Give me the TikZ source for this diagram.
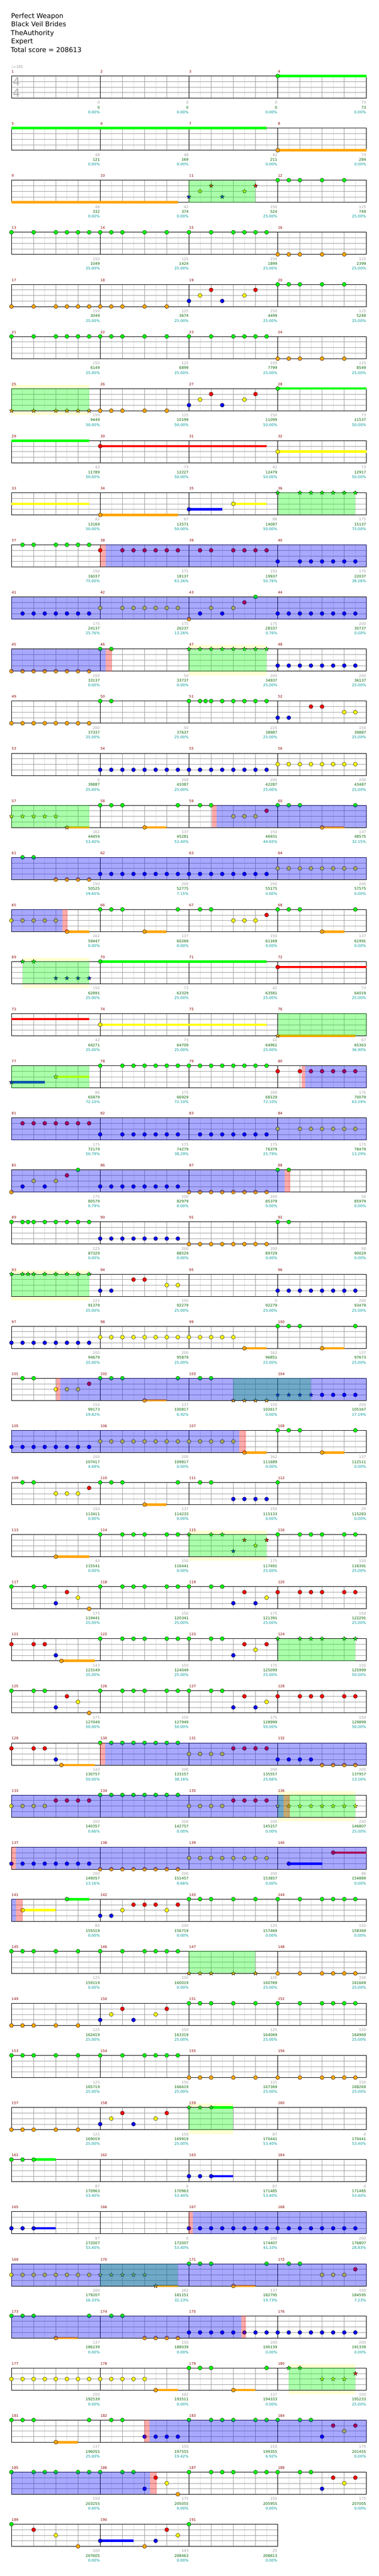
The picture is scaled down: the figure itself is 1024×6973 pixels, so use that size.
\documentclass[tikz,border=0pt]{standalone}
\usepackage{fontspec}
\setmainfont{DejaVu Sans}
\definecolor{ln0}{RGB}{0,255,0}
\definecolor{ln1}{RGB}{255,0,0}
\definecolor{ln2}{RGB}{255,255,0}
\definecolor{ln3}{RGB}{0,0,255}
\definecolor{ln4}{RGB}{255,165,0}
\definecolor{lightgl}{RGB}{222,222,222}
\definecolor{beatgl}{RGB}{160,160,160}
\definecolor{mred}{RGB}{140,0,0}
\definecolor{tgray}{RGB}{160,160,160}
\definecolor{tgreen}{RGB}{0,100,0}
\definecolor{tcyan}{RGB}{0,153,153}
\definecolor{solocol}{RGB}{255,255,210}
\definecolor{tsgray}{RGB}{175,175,175}
\tikzset{
  nt/.style={draw=black,line width=0.6pt},
  lgl/.style={draw=lightgl,line width=0.9pt},
  bgl/.style={draw=beatgl,line width=0.9pt},
  mline/.style={draw=black,line width=1pt},
  spc/.style={fill=ln0,fill opacity=0.333},
  actc/.style={fill=ln3,fill opacity=0.34},
  pkc/.style={fill=ln1,fill opacity=0.333},
  mnum/.style={anchor=base west,inner sep=0pt,text=mred,font=\fontsize{9.5}{11}\selectfont},
  sga/.style={anchor=base east,inner sep=0pt,text=tgray,font=\fontsize{10}{12}\selectfont},
  sgb/.style={anchor=base east,inner sep=0pt,text=tgreen,font=\fontsize{10}{12}\selectfont},
  sgc/.style={anchor=base east,inner sep=0pt,text=tcyan,font=\fontsize{10}{12}\selectfont},
  hdr/.style={anchor=base west,inner sep=0pt,text=black,font=\fontsize{18}{22}\selectfont},
}
\newcommand\NoteL[2]{\foreach \p in {#2}{\filldraw[nt,fill=ln#1] ({30*\p},{15*#1}) circle[radius=5.4pt];}}
\newcommand\StarL[2]{\foreach \p in {#2}{\filldraw[nt,fill=ln#1,shift={({30*\p},{15*#1})}] (270:6) -- (306:2.5) -- (342:6) -- (18:2.5) -- (54:6) -- (90:2.5) -- (126:6) -- (162:2.5) -- (198:6) -- (234:2.5) -- cycle;}}
\newcommand\SusL[3]{\draw[line width=6.5pt,ln#1] ({30*#2},{15*#1}) -- ({30*#3},{15*#1});}
\newcommand\SpR[2]{\fill[spc] ({30*#1},0) rectangle ({30*#2},60);}
\newcommand\ActR[2]{\fill[actc] ({30*#1},0) rectangle ({30*#2},60);}
\newcommand\PkR[2]{\fill[pkc] ({30*#1},0) rectangle ({30*#2},60);}
\newcommand\Row[2]{\pgfmathsetmacro\rowy{205.7+141*(#1-1)}\begin{scope}[shift={(31,\rowy)}]#2\end{scope}}
\begin{document}
\begin{tikzpicture}[x=1pt,y=-1pt]
\useasboundingbox (0,0) rectangle (1024,6973);
\fill[white] (0,0) rectangle (1024,6973);
% header
\node[hdr] (h1) at (30,49) {Perfect Weapon};
\node[hdr] (h2) at (30,72) {Black Veil Brides};
\node[hdr] (h3) at (29,95) {TheAuthority};
\node[hdr] (h4) at (30,118) {Expert};
\node[hdr] (h5) at (29,141) {Total score = 208613};
\node[anchor=base west,inner sep=0pt,text=tgray,font=\fontsize{10}{12}\selectfont] (tempo) at (30,184.5) {♩=185};
% solo highlight
\foreach \r/\a/\b in {7/0/7,12/16/23,18/1/7,24/0/7,29/16/23,34/24/31,40/16/20,45/25/31}{
  \pgfmathsetmacro\ty{205.7+141*(\r-1)}
  \fill[solocol] ({31+30*\a},{\ty-10}) rectangle ({31+30*\b},{\ty+71});
}
% staves
\foreach \r in {0,...,47}{
  \pgfmathsetmacro\ty{205.7+141*\r}
  \ifnum\r=47 \def\nm{3}\else\def\nm{4}\fi
  \pgfmathtruncatemacro\W{240*\nm}
  \pgfmathtruncatemacro\ne{8*\nm-1}
  \pgfmathtruncatemacro\nb{4*\nm-1}
  \pgfmathtruncatemacro\nmm{\nm-1}
  \begin{scope}[shift={(31,\ty)}]
    \fill[white] (0,0) rectangle (\W,60);
    \foreach \k in {1,3,...,\ne} \draw[lgl] ({30*\k},0) -- ({30*\k},60);
    \foreach \yy in {15,30,45} \draw[bgl] (0,\yy) -- (\W,\yy);
    \foreach \k in {1,...,\nb} \draw[bgl] ({60*\k},0) -- ({60*\k},60);
    \foreach \k in {1,...,\nmm} \draw[mline] ({240*\k},0) -- ({240*\k},60);
    \draw[mline] (0,0) rectangle (\W,60);
  \end{scope}
}
% time signature
\node[inner sep=0pt,text=tsgray,font=\fontsize{31}{31}\selectfont] (ts1) at (44.5,221) {4};
\node[inner sep=0pt,text=tsgray,font=\fontsize{31}{31}\selectfont] (ts2) at (44.5,251) {4};
% measure numbers and scores
\foreach \m/\a/\b/\c in {1/0/0/0.00,2/0/0/0.00,3/0/0/0.00,4/73/73/0.00,5/48/121/0.00,6/48/169/0.00,7/42/211/0.00,8/73/284/0.00,9/48/332/0.00,10/42/374/0.00,11/150/524/25.00,12/125/749/25.00,13/150/1049/25.00,14/125/1424/25.00,15/150/1899/25.00,16/125/2399/25.00,17/150/3049/25.00,18/125/3674/25.00,19/150/4499/25.00,20/125/5249/25.00,21/150/6149/25.00,22/125/6899/25.00,23/150/7799/25.00,24/125/8549/25.00,25/150/9449/50.00,26/125/10199/50.00,27/150/11099/50.00,28/73/11537/50.00,29/42/11789/50.00,30/73/12227/50.00,31/42/12479/50.00,32/73/12917/50.00,33/42/13169/50.00,34/67/13571/50.00,35/86/14087/50.00,36/175/15137/75.00,37/150/16037/75.00,38/175/18137/63.26,39/150/19937/50.76,40/175/22037/38.26,41/175/24137/25.76,42/175/26237/13.26,43/175/28337/0.76,44/200/30737/0.00,45/200/33137/0.00,46/50/33737/0.00,47/200/34937/25.00,48/200/36137/25.00,49/200/37337/25.00,50/50/37637/25.00,51/225/38987/25.00,52/150/39887/25.00,53/0/39887/25.00,54/200/41087/25.00,55/200/42287/25.00,56/200/43487/25.00,57/162/44459/53.40,58/137/45281/53.40,59/150/46931/44.65,60/137/48575/32.15,61/150/50525/19.65,62/200/52775/7.15,63/200/55175/0.00,64/200/57575/0.00,65/162/59447/0.00,66/137/60269/0.00,67/150/61169/0.00,68/137/61991/0.00,69/150/62891/25.00,70/73/63329/25.00,71/42/63581/25.00,72/73/64019/25.00,73/42/64271/25.00,74/73/64709/25.00,75/42/64961/25.00,76/67/65363/36.90,77/86/65879/72.10,78/175/66929/72.10,79/200/68129/72.10,80/175/70079/63.29,81/175/72179/50.79,82/175/74279/38.29,83/175/76379/25.79,84/175/78479/13.29,85/175/80579/0.79,86/200/82979/0.00,87/200/85379/0.00,88/50/85979/0.00,89/225/87329/0.00,90/200/88529/0.00,91/200/89729/0.00,92/50/90029/0.00,93/225/91379/25.00,94/150/92279/25.00,95/0/92279/25.00,96/200/93479/25.00,97/200/94679/25.00,98/200/95879/25.00,99/162/96851/25.00,100/137/97673/25.00,101/150/99173/19.42,102/137/100817/6.92,103/150/102617/0.00,104/200/105167/17.19,105/200/107417/4.69,106/200/109817/0.00,107/162/111689/0.00,108/137/112511/0.00,109/150/113411/0.00,110/137/114233/0.00,111/150/115133/0.00,112/25/115283/0.00,113/43/115541/0.00,114/150/116441/0.00,115/175/117491/25.00,116/150/118391/25.00,117/175/119441/25.00,118/150/120341/25.00,119/175/121391/25.00,120/150/122291/25.00,121/143/123149/25.00,122/150/124049/25.00,123/175/125099/25.00,124/150/125999/50.00,125/175/127049/50.00,126/150/127949/50.00,127/175/128999/50.00,128/150/129899/50.00,129/143/130757/50.00,130/200/133157/38.16,131/200/135557/25.66,132/200/137957/13.16,133/200/140357/0.66,134/200/142757/0.00,135/200/145157/0.00,136/200/146807/25.00,137/200/149057/13.16,138/200/151457/0.66,139/200/153857/0.00,140/86/154889/0.00,141/80/155519/0.00,142/200/156719/0.00,143/125/157469/0.00,144/150/158369/0.00,145/125/159119/0.00,146/150/160019/0.00,147/125/160769/25.00,148/150/161669/25.00,149/125/162419/25.00,150/150/163319/25.00,151/125/164069/25.00,152/150/164969/25.00,153/125/165719/25.00,154/150/166619/25.00,155/125/167369/25.00,156/150/168269/25.00,157/125/169019/25.00,158/150/169919/25.00,159/87/170441/53.40,160/0/170441/53.40,161/87/170963/53.40,162/0/170963/53.40,163/87/171485/53.40,164/0/171485/53.40,165/87/172007/53.40,166/0/172007/53.40,167/200/174407/41.33,168/200/176807/28.83,169/200/179207/16.33,170/162/181151/32.23,171/137/182795/19.73,172/150/184595/7.23,173/137/186239/0.00,174/150/188039/0.00,175/200/190139/0.00,176/200/191339/0.00,177/200/192539/0.00,178/162/193511/0.00,179/137/194333/0.00,180/150/195233/25.00,181/137/196055/25.00,182/150/197555/19.42,183/150/199355/6.92,184/175/201455/0.00,185/150/203255/0.00,186/175/205055/0.00,187/150/205955/0.00,188/175/207005/0.00,189/100/207605/0.00,190/143/208463/0.00,191/25/208613/0.00}{
  \pgfmathtruncatemacro\rr{int((\m-1)/4)}
  \pgfmathtruncatemacro\cc{mod(\m-1,4)}
  \pgfmathsetmacro\xs{31+240*\cc}
  \pgfmathsetmacro\xe{271+240*\cc}
  \pgfmathsetmacro\ty{205.7+141*\rr}
  \node[mnum] (mn\m) at ({\xs+0.5},{\ty-8.2}) {\m};
  \node[sga] (sa\m) at ({\xe-0.8},{\ty+76}) {\a};
  \node[sgb] (sb\m) at ({\xe-0.8},{\ty+89}) {\b};
  \node[sgc] (sc\m) at ({\xe-0.8},{\ty+102}) {\c\%};
}
% rows of notes
\Row{1}{\SusL{0}{24}{32}\NoteL{0}{24}}
\Row{2}{\SusL{0}{0}{23}\SusL{4}{24}{32}\NoteL{4}{24}}
\Row{3}{\SusL{4}{0}{15}\StarL{3}{16,19}\StarL{2}{17,21}\StarL{1}{18,22}\NoteL{0}{24,25,26,28,30}\SpR{16}{22}}
\Row{4}{\NoteL{0}{0,2,4,5,6,7,8,9,10,12,14,16,18,20,21,22,23}\NoteL{4}{24,25,26,28,30}}
\Row{5}{\NoteL{4}{0,2,4,5,6,7,8,9,10,12,14}\NoteL{3}{16,19}\NoteL{2}{17,21}\NoteL{1}{18,22}\NoteL{0}{24,25,26,28,30}}
\Row{6}{\NoteL{0}{0,2,4,5,6,7,8,9,10,12,14,16,18,20,21,22,23}\NoteL{4}{24,25,26,28,30}}
\Row{7}{\StarL{4}{0,2,4,5,6,7}\NoteL{4}{8,9,10,12,14}\NoteL{3}{16,19}\NoteL{2}{17,21}\NoteL{1}{18,22}\SusL{0}{24}{32}\NoteL{0}{24}\SpR{0}{7}}
\Row{8}{\SusL{0}{0}{7}\SusL{1}{8}{23}\NoteL{1}{8}\SusL{2}{24}{32}\NoteL{2}{24}}
\Row{9}{\SusL{2}{0}{7}\SusL{4}{8}{15}\NoteL{4}{8}\SusL{3}{16}{19}\NoteL{3}{16}\SusL{2}{20}{23}\NoteL{2}{20}\StarL{0}{24,26,27,28,29,30,31}\SpR{24}{31}}
\Row{10}{\NoteL{0}{1,2,4,5,6,7}\NoteL{1}{8,10,11,12,13,14,15,17,18,20,21,22,23}\NoteL{3}{24,26,27,28,29,30,31}\ActR{8.48}{32}\PkR{8}{8.48}}
\Row{11}{\NoteL{3}{1,...,7}\NoteL{2}{8,10,11,12,13,14,15}\NoteL{4}{16}\NoteL{3}{17,19}\NoteL{2}{18,20}\NoteL{1}{21}\NoteL{0}{22}\NoteL{3}{24,...,31}\ActR{0}{32}}
\Row{12}{\NoteL{4}{0,...,7}\NoteL{0}{8,9}\StarL{0}{16,...,23}\NoteL{3}{24,...,31}\SpR{16}{23}\ActR{0}{8.48}\PkR{8.48}{9.05}}
\Row{13}{\NoteL{4}{0,...,7}\NoteL{0}{8,9,16,17,17.5,18,19,20,21,22,23}\NoteL{3}{24,25}\NoteL{1}{27,28}\NoteL{2}{30,31}}
\Row{14}{\NoteL{3}{8,...,23}\NoteL{2}{24,...,31}}
\Row{15}{\StarL{2}{0,1,2,3,4}\SusL{4}{5}{7}\StarL{4}{5}\NoteL{0}{8,9,10,15,17,18,24,25,26,31}\SusL{4}{12}{14}\NoteL{4}{12}\SusL{4}{28}{30}\NoteL{4}{28}\NoteL{2}{20,21,22}\NoteL{1}{23}\SpR{0}{7}\ActR{18.5}{32}\PkR{18.08}{18.5}}
\Row{16}{\NoteL{0}{1,2}\NoteL{4}{4,5,6,7}\NoteL{3}{8,...,23}\NoteL{2}{24,...,31}\ActR{0}{32}}
\Row{17}{\NoteL{2}{0,...,4}\SusL{4}{5}{7}\NoteL{4}{5}\NoteL{0}{8,9,10,15,17,18,24,25,26,31}\SusL{4}{12}{14}\NoteL{4}{12}\SusL{4}{28}{30}\NoteL{4}{28}\NoteL{2}{20,21,22}\NoteL{1}{23}\ActR{0}{4.59}\PkR{4.59}{5.05}}
\Row{18}{\StarL{0}{1,2}\StarL{3}{4,5,6,7}\SusL{0}{8}{23}\NoteL{0}{8}\SusL{1}{24}{32}\NoteL{1}{24}\SpR{1}{7}}
\Row{19}{\SusL{1}{0}{7}\SusL{2}{8}{23}\NoteL{2}{8}\SusL{4}{24}{31}\StarL{4}{24}\SpR{24}{32}}
\Row{20}{\SusL{3}{0}{3}\StarL{3}{0}\SusL{2}{4}{7}\StarL{2}{4}\NoteL{0}{8,10,11,12,13,14,15,16,17,18,19,20,21,22,23}\NoteL{1}{24,26,27,28,29,30,31}\SpR{0}{7}\ActR{26.47}{32}\PkR{26.14}{26.47}}
\Row{21}{\NoteL{1}{1,...,7}\NoteL{3}{8,10,11,12,13,14,15,17,18,19,20,21,22,23}\NoteL{2}{24,26,27,28,29,30,31}\ActR{0}{32}}
\Row{22}{\NoteL{4}{0}\NoteL{3}{1,3}\NoteL{2}{2,4}\NoteL{1}{5}\NoteL{0}{6}\NoteL{3}{8,...,15}\NoteL{4}{16,...,23}\NoteL{0}{24,25}\ActR{0}{24.63}\PkR{24.63}{25.14}}
\Row{23}{\NoteL{0}{0,1,1.5,2,3,4,5,6,7}\NoteL{3}{8,...,15}\NoteL{4}{16,...,23}\NoteL{0}{24,25}}
\Row{24}{\StarL{0}{0,1,1.5,2,3,4,5,6,7}\NoteL{3}{8,9}\NoteL{1}{11,12}\NoteL{2}{14,15}\NoteL{3}{24,...,31}\SpR{0}{7}}
\Row{25}{\NoteL{3}{0,...,7}\NoteL{2}{8,...,20}\SusL{4}{21}{23}\NoteL{4}{21}\NoteL{0}{24,25,26,31}\SusL{4}{28}{30}\NoteL{4}{28}}
\Row{26}{\NoteL{0}{1,2,8,9,10,15,17,18}\NoteL{2}{4,5,6}\NoteL{1}{7}\SusL{4}{12}{14}\NoteL{4}{12}\StarL{4}{20,21,22,23}\StarL{3}{24,25,26,27}\NoteL{3}{28,29,30,31}\SpR{20}{27}\ActR{4.41}{32}\PkR{4.04}{4.41}}
\Row{27}{\NoteL{3}{0,...,7}\NoteL{2}{8,...,20}\SusL{4}{21}{23}\NoteL{4}{21}\NoteL{0}{24,25,26,31}\SusL{4}{28}{30}\NoteL{4}{28}\ActR{0}{20.54}\PkR{20.54}{21.13}}
\Row{28}{\NoteL{0}{1,2,8,9,10,15,17,18,24}\NoteL{2}{4,5,6}\NoteL{1}{7}\SusL{4}{12}{14}\NoteL{4}{12}\NoteL{3}{20,21,22,23}}
\Row{29}{\SusL{4}{4}{7}\NoteL{4}{4}\NoteL{0}{8,10,11,12,14,15,24,26,27,28,30,31}\StarL{0}{16,18,19}\StarL{3}{20}\StarL{1}{21,23}\StarL{2}{22}\SpR{16}{23}}
\Row{30}{\NoteL{0}{0,2,3,8,10,11,12,14,15,16,18,19}\NoteL{3}{4,20,22}\NoteL{1}{5,21,24,26,27,28,30,31}\NoteL{2}{6,23}\NoteL{4}{7}}
\Row{31}{\NoteL{1}{0,2,3,21,23}\NoteL{3}{4,20}\SusL{4}{4.5}{7.5}\NoteL{4}{4.5}\NoteL{0}{8,10,11,12,14,15,16,18,19}\NoteL{2}{22}\StarL{0}{24,26,27,28,30,31}\SpR{24}{31}}
\Row{32}{\NoteL{0}{0,2,3,8,10,11,12,14,15,16,18,19}\NoteL{3}{4,20,22}\NoteL{1}{5,21,24,26,27,28,30,31}\NoteL{2}{6,23}\NoteL{4}{7}}
\Row{33}{\NoteL{1}{0,2,3}\NoteL{3}{4}\SusL{4}{4.5}{7.5}\NoteL{4}{4.5}\NoteL{0}{8,...,15}\NoteL{2}{16,...,19}\NoteL{1}{20,...,23}\NoteL{3}{24,...,27}\NoteL{4}{28,...,31}\ActR{8.44}{32}\PkR{8}{8.44}}
\Row{34}{\NoteL{2}{0,...,3}\NoteL{1}{4,...,7}\NoteL{0}{8,...,15}\NoteL{2}{16,...,19}\NoteL{1}{20,...,23}\StarL{2}{24,...,31}\SpR{24}{31}\ActR{0}{24.55}\PkR{24.55}{25.1}}
\Row{35}{\NoteL{3}{0,...,7}\NoteL{4}{8,...,15}\NoteL{2}{16,...,23}\SusL{3}{25}{28}\NoteL{3}{25}\SusL{1}{29}{32}\NoteL{1}{29}\ActR{0.41}{32}\PkR{0}{0.41}}
\Row{36}{\SusL{2}{1}{4}\NoteL{2}{1}\SusL{0}{5}{7}\NoteL{0}{5}\NoteL{3}{8,9}\NoteL{2}{10,14}\NoteL{1}{11,12,13,15}\NoteL{0}{16,17,18,20,22,24,26,28,29,30,31}\ActR{0}{0.41}\PkR{0.41}{1.02}}
\Row{37}{\NoteL{0}{0,1,2,4,6,8,10,12,13,14,15}\StarL{4}{16,17,18,20,22}\NoteL{4}{24,26,28,29,30,31}\SpR{16}{22}}
\Row{38}{\NoteL{4}{0,1,2,4,6}\NoteL{3}{8,11}\NoteL{2}{9,13}\NoteL{1}{10,14}\NoteL{0}{16,17,18,20,22,24,26,28,29,30,31}}
\Row{39}{\NoteL{0}{0,1,2,4,6,8,10,12,13,14,15}\NoteL{4}{16,17,18,20,22,24,26,28,29,30,31}}
\Row{40}{\NoteL{4}{0,1,2,4,6}\NoteL{3}{8,11}\NoteL{2}{9,13}\NoteL{1}{10,14}\SusL{0}{18}{20}\StarL{0}{16,17,18}\SpR{16}{20}}
\Row{41}{\SusL{0}{2}{4}\NoteL{0}{0,1,2}\SusL{3}{18}{20}\NoteL{3}{16,17,18}}
\Row{42}{\SusL{3}{2}{4}\NoteL{3}{0,1,2}\NoteL{3}{16,...,31}\ActR{16.36}{32}\PkR{16}{16.36}}
\Row{43}{\NoteL{2}{0,...,7}\StarL{2}{8,...,12}\SusL{4}{13}{15}\StarL{4}{13}\NoteL{0}{16,17,18,23,25,26}\SusL{4}{20}{22}\NoteL{4}{20}\NoteL{2}{28,29,30}\NoteL{1}{31}\SpR{8}{15}\ActR{0}{32}}
\Row{44}{\NoteL{0}{0,1,2,7,9,10}\SusL{4}{4}{6}\NoteL{4}{4}\NoteL{4}{12,...,15}\NoteL{3}{16,...,31}\ActR{0}{20.72}\PkR{20.72}{21.13}}
\Row{45}{\NoteL{2}{0,...,12}\SusL{4}{13}{15}\NoteL{4}{13}\NoteL{0}{16,17,18,23}\SusL{4}{20}{22}\NoteL{4}{20}\StarL{0}{25,26}\StarL{2}{28,29,30}\StarL{1}{31}\SpR{25}{31}}
\Row{46}{\NoteL{0}{0,1,2,7,9,10,16,18,19,20,22,23,24,26,27}\SusL{4}{4}{6}\NoteL{4}{4}\NoteL{3}{12,13,14,15,28}\NoteL{1}{29,31}\NoteL{2}{30}\ActR{12.47}{32}\PkR{12}{12.47}}
\Row{47}{\NoteL{0}{0,2,3,4,6,7,8,10,11,16,18,19,20,22,23,24,26,27}\NoteL{3}{12,28}\NoteL{1}{13,29,31}\NoteL{2}{14,30}\NoteL{4}{15}\ActR{0}{12.51}\PkR{12.51}{13.08}}
\Row{48}{\NoteL{0}{0,16}\NoteL{1}{2,14}\NoteL{2}{4,15}\NoteL{4}{6,12}\SusL{3}{8}{11}\NoteL{3}{8,13}}
\end{tikzpicture}
\end{document}
